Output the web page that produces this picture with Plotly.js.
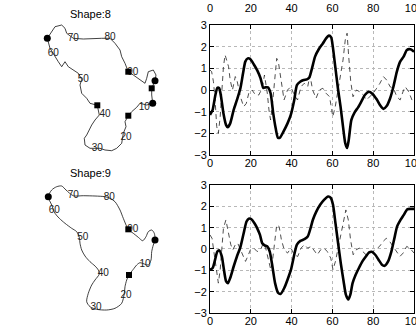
<!DOCTYPE html>
<html>
<head>
<meta charset="utf-8">
<script src="https://cdn.plot.ly/plotly-3.0.1.min.js"></script>
<style>
html, body { margin: 0; padding: 0; background: #fff; }
#plot { width: 416px; height: 327px; }
</style>
</head>
<body>
<div id="plot"></div>
<script>
// thick / dashed signals for shape 8 (top) and shape 9 (bottom)
var topThickX = [0, 1.3, 2.5, 3.6, 4.5, 5.4, 6.6, 7.9, 8.7, 9.9, 11.6, 13.2, 14.9, 16.2, 17.3, 18.5, 19.8, 21.5, 23.1, 24.8, 26.1, 27.2, 28.4, 29.7, 31, 32.2, 33.3, 34.3, 36, 38, 39.6, 41.3, 42.6, 44.2, 45.9, 47.5, 48.7, 50, 51.5, 53.3, 55.3, 56.9, 58.3, 59.4, 60.2, 61.4, 62.7, 64, 65.2, 66.3, 67.2, 68, 69.3, 70.9, 72.6, 74.3, 75.9, 77.9, 79.7, 81.7, 83.3, 85, 86.6, 88.3, 89.9, 91.6, 93.2, 94.9, 96.5, 98.2, 100];
var topThickY = [-1.15, -0.92, -0.3, 0.1, 0.08, -0.3, -1.08, -1.62, -1.72, -1.54, -0.92, -0.46, 0.08, 0.77, 1.31, 1.46, 1.42, 1.18, 0.92, 0.54, 0.1, 0.12, 0.12, -0.15, -1.08, -1.77, -2.2, -2.2, -1.92, -1.54, -1.15, -0.46, 0.23, 0.38, 0.46, 0.49, 0.58, 1.0, 1.54, 1.88, 2.15, 2.38, 2.51, 2.43, 2.0, 1.08, 0.08, -0.77, -1.69, -2.46, -2.68, -2.31, -1.38, -1.03, -0.8, -0.51, -0.23, -0.08, -0.18, -0.43, -0.69, -0.87, -0.74, -0.38, 0.15, 0.85, 1.31, 1.54, 1.85, 1.88, 1.77];
var topDashX = [0, 0.8, 1.7, 2.5, 3.3, 4.1, 5, 5.8, 6.6, 7.4, 9.1, 9.9, 11, 12.4, 13.2, 14.9, 16.5, 17.8, 19, 20.6, 22.3, 23.9, 25.6, 26.7, 28.1, 28.9, 29.7, 30.5, 31.4, 32.7, 33.5, 34.7, 36.3, 38, 39.6, 41.3, 42.9, 44.6, 46.2, 47.9, 49, 50.3, 52, 53.6, 55.3, 56.9, 58.6, 59.4, 60.2, 61.4, 62.7, 64, 65.2, 66.3, 67.2, 68, 69, 70.1, 71.8, 73.4, 75.1, 76.7, 78.4, 80, 81.7, 83.3, 85, 86.6, 88.3, 89.9, 91.6, 93.2, 94.9, 95.7, 97.4, 99, 100];
var topDashY = [0.92, 0.85, 0.38, -0.46, -1.69, -2.0, -1.23, -0.15, 1.08, 1.62, 1.08, 0.46, 0, 0.62, 0.46, -0.31, -0.77, -0.62, -0.15, 0, -0.23, -0.23, 0.08, 0.69, -0.15, -0.92, -1.38, -0.77, 0.31, 1.46, 1.31, 0.46, -0.46, 0, 0.15, -0.23, -0.46, 0.15, 0.31, 0.15, 0.69, 0, -0.38, 0, 0.08, -0.15, -0.31, -0.77, -1.23, -0.77, 0, 0.77, 1.38, 2.31, 2.62, 1.54, 0.38, -0.31, 0, -0.08, -0.23, -0.46, -0.31, -0.15, 0.08, 0.31, 0.62, 0.46, 0.15, 0.08, -0.31, -0.46, 0, 0.15, -0.08, -0.46, -0.54];

var botThickX = [0, 1.3, 2.5, 3.6, 4.6, 5.8, 6.6, 7.9, 8.8, 9.9, 11.6, 13.2, 14.9, 16.5, 17.9, 19, 20.2, 21.8, 23.1, 24.5, 25.6, 26.8, 28.1, 29.3, 30.6, 31.9, 33.4, 34.7, 36.4, 38, 39.7, 41.3, 42.6, 44.3, 46.3, 47.9, 49.3, 50.4, 52.1, 54, 55.9, 57.9, 59.2, 60.3, 61.5, 62.8, 64.1, 65.5, 66.6, 67.8, 68.8, 69.9, 71.4, 73, 74.7, 76.4, 78, 79.3, 81, 82.6, 84.3, 85.6, 87.3, 88.9, 90.4, 91.7, 93.4, 95, 96.7, 98.3, 100];
var botThickY = [-0.97, -0.89, -0.5, -0.12, -0.07, -0.35, -0.82, -1.52, -1.6, -1.36, -0.82, -0.35, 0.09, 0.74, 1.29, 1.42, 1.4, 1.21, 0.98, 0.66, 0.27, 0.17, 0.12, -0.12, -0.82, -1.6, -2.06, -2.1, -1.83, -1.44, -0.97, -0.27, 0.2, 0.38, 0.46, 0.58, 0.98, 1.36, 1.75, 2.07, 2.3, 2.46, 2.4, 2.07, 1.21, 0.27, -0.66, -1.52, -2.14, -2.37, -2.14, -1.6, -1.21, -0.89, -0.58, -0.35, -0.16, -0.13, -0.27, -0.5, -0.74, -0.79, -0.58, -0.12, 0.51, 1.05, 1.36, 1.6, 1.86, 1.88, 1.88];
var botDashX = [0, 1, 2, 3.3, 4.1, 5, 5.8, 6.6, 7.8, 9.1, 10.2, 11.2, 12.4, 13.6, 14.9, 16.2, 17.4, 18.5, 19.8, 21.5, 23.1, 24.8, 26.1, 27.3, 28.4, 29.8, 30.6, 31.7, 32.7, 33.9, 35, 36.4, 38, 39.7, 41.3, 43, 44.6, 46.3, 47.9, 49.6, 50.9, 52.6, 54.2, 55.9, 57.5, 59.2, 60.3, 61.5, 62.8, 64.1, 65.3, 66.6, 67.8, 68.9, 70.2, 71.6, 73.2, 74.9, 76.5, 78.2, 79.8, 81.5, 83.1, 84.8, 86.4, 88.1, 89.8, 91.4, 93.1, 94.7, 96.4, 98, 100];
var botDashY = [0.66, 0.5, -0.19, -1.2, -1.6, -0.97, -0.04, 0.98, 1.36, 0.74, 0.2, -0.04, 0.2, 0.27, -0.04, -0.35, -0.58, -0.35, -0.04, 0.04, -0.12, -0.04, 0.27, 0.04, -0.43, -0.97, -0.58, 0.43, 1.13, 1.05, 0.43, -0.04, -0.19, 0.04, -0.27, -0.35, 0.04, 0.2, 0.04, 0.12, -0.04, -0.27, -0.04, 0.04, -0.12, -0.43, -0.97, -0.58, 0.04, 0.66, 1.13, 1.83, 1.36, 0.43, -0.27, -0.04, 0.04, -0.12, -0.27, -0.19, -0.12, 0, 0.12, 0.35, 0.5, 0.35, 0.12, -0.12, -0.35, -0.19, 0.12, 0.04, -0.19];

// shape outlines (y grows downward)
var shape8X = [155, 151.7, 151.7, 152.7, 146.7, 140, 136.7, 131.7, 128.3, 125, 126, 123.3, 121.7, 116.7, 111.7, 105, 100, 90, 85, 84.3, 86.7, 90, 91.7, 95, 99.3, 97.3, 90, 86.7, 81.7, 80, 81.7, 78.3, 73.3, 68.3, 65, 61.7, 58.3, 55, 53.3, 50, 47.3, 51.7, 55, 61.7, 65, 66.7, 73.3, 83.3, 93.3, 101.7, 110, 115, 120, 121.7, 125, 128.3, 133.3, 140, 145, 146.7, 148.3, 153.3, 156, 155];
var shape8Y = [80.7, 88.3, 95, 103.3, 105, 103.3, 107.3, 111.7, 115.7, 121.7, 126.7, 133.3, 143.3, 148.3, 150.7, 150, 148.3, 148.3, 145, 138.3, 135, 128.3, 125, 120, 115, 105.3, 103.3, 98.3, 93.3, 85, 79.3, 73.3, 70, 66.7, 61.7, 66.7, 61.7, 56.7, 53.3, 48.3, 38.3, 31.7, 26.7, 25, 28.3, 33.3, 38.3, 39, 38.3, 38.3, 38.3, 43.3, 50, 56.7, 63.3, 71.7, 75, 80, 83.3, 78.3, 71.7, 70, 75, 80.7];
var shape9X = [155, 153.3, 151.7, 151, 148.3, 140, 136.7, 133.3, 129, 126.7, 125, 124.3, 121.7, 115, 106.7, 96.7, 90, 86.7, 88.3, 91.7, 95, 99.3, 98.3, 95, 90, 85, 81.7, 80, 79.3, 76.7, 71.7, 65, 59.3, 55, 51.7, 48.3, 51.7, 56.7, 61.7, 66, 73.3, 83.3, 95, 105, 110, 115, 120, 123.3, 128.3, 133.3, 138.3, 142.7, 146, 148.3, 151.7, 154.3, 155];
var shape9Y = [80, 85, 91.7, 100, 105, 102.7, 105, 109.3, 115, 120, 126.7, 133.3, 143.3, 148.3, 150, 149.3, 146.7, 141.7, 133.3, 125, 120, 114, 110, 106, 101.7, 96, 90, 83.3, 77.3, 71.7, 68.3, 63.3, 58.3, 53.3, 45, 36.7, 30, 26.7, 26, 30, 35.7, 35.7, 36, 36.7, 38.3, 41.7, 50, 58.3, 69.3, 73.3, 77.3, 80.7, 76.7, 71.7, 70, 73.3, 80];

var labelText = ["10", "20", "30", "40", "50", "60", "70", "80", "90"];
var label8X = [144.3, 126, 97.3, 105, 83.3, 53.3, 73.3, 110, 132.7];
var label8Y = [107.3, 137.3, 148.3, 114.3, 79.3, 53.3, 38.3, 37.3, 72.3];
var label9X = [145, 126, 96, 103.3, 82.7, 54.3, 73.3, 109.3, 132.7];
var label9Y = [105, 136, 147.3, 113.3, 77.3, 50, 35.7, 37.7, 69.3];

var circ8X = [47.3, 155, 152.7], circ8Y = [38.3, 80.7, 103.3];
var sq8X = [151.7, 128.3, 97.3, 128.3], sq8Y = [88.3, 115.7, 105.3, 71.7];
var circ9X = [48.3, 155], circ9Y = [36.7, 80];
var sq9X = [128.3, 129], sq9Y = [69.3, 115];

var xTicks = [0, 20, 40, 60, 80, 100];
var yTicks = [-3, -2, -1, 0, 1, 2, 3];

var FONT = "Liberation Sans, Arial, sans-serif";

function thick(x, y, xa, ya) {
  return {x: x, y: y, xaxis: xa, yaxis: ya, type: "scatter", mode: "lines",
    line: {color: "#000", width: 2.6, shape: "spline", smoothing: 0.6}, hoverinfo: "skip"};
}
function dashed(x, y, xa, ya) {
  return {x: x, y: y, xaxis: xa, yaxis: ya, type: "scatter", mode: "lines",
    line: {color: "#222", width: 0.8, dash: "5px,4px"}, hoverinfo: "skip"};
}
function outline(x, y, xa, ya, sh) {
  return {x: x, y: y, xaxis: xa, yaxis: ya, type: "scatter", mode: "lines",
    line: {color: "#111", width: 0.8, shape: sh, smoothing: 0.8}, hoverinfo: "skip"};
}
function labels(x, y, xa, ya) {
  return {x: x, y: y, xaxis: xa, yaxis: ya, type: "scatter", mode: "text", text: labelText,
    textfont: {family: FONT, size: 10, color: "#222"}, hoverinfo: "skip"};
}
function marks(x, y, xa, ya, sym, sz) {
  return {x: x, y: y, xaxis: xa, yaxis: ya, type: "scatter", mode: "markers",
    marker: {symbol: sym, size: sz, color: "#000"}, hoverinfo: "skip"};
}

var data = [
  dashed(topDashX, topDashY, "x", "y"),
  thick(topThickX, topThickY, "x", "y"),
  dashed(botDashX, botDashY, "x2", "y2"),
  thick(botThickX, botThickY, "x2", "y2"),
  {x: [0, 100], y: [0, 0], xaxis: "x5", yaxis: "y", mode: "markers", marker: {opacity: 0}, hoverinfo: "skip"},
  outline(shape8X, shape8Y, "x3", "y3", "linear"),
  labels(label8X, label8Y, "x3", "y3"),
  marks(circ8X, circ8Y, "x3", "y3", "circle", 7),
  marks(sq8X, sq8Y, "x3", "y3", "square", 6),
  outline(shape9X, shape9Y, "x4", "y4", "spline"),
  labels(label9X, label9Y, "x4", "y4"),
  marks(circ9X, circ9Y, "x4", "y4", "circle", 7),
  marks(sq9X, sq9Y, "x4", "y4", "square", 6)
];

var tickFont = {family: FONT, size: 11, color: "#000"};
function xAx(anchor, dom) {
  return {domain: dom, anchor: anchor, range: [0, 100], tickvals: xTicks,
    showline: true, mirror: "ticks", linecolor: "#000", linewidth: 1, ticks: "inside", ticklen: 4,
    tickcolor: "#000", showgrid: true, gridcolor: "#b8b8b8", griddash: "dot", gridwidth: 1,
    zeroline: false, tickfont: tickFont, ticklabeloverflow: "allow", ticklabelstandoff: -2,
    fixedrange: true};
}
function yAx(anchor, dom) {
  return {domain: dom, anchor: anchor, range: [-3, 3], tickvals: yTicks,
    showline: true, mirror: "ticks", linecolor: "#000", linewidth: 1, ticks: "inside", ticklen: 4,
    tickcolor: "#000", showgrid: true, gridcolor: "#b8b8b8", griddash: "dot", gridwidth: 1,
    zeroline: false, tickfont: tickFont, fixedrange: true};
}
function hidden(dom, rng, anchor) {
  return {domain: dom, range: rng, anchor: anchor, visible: false, fixedrange: true};
}

var layout = {
  width: 416, height: 327,
  margin: {l: 0, r: 0, t: 0, b: 0},
  paper_bgcolor: "#fff", plot_bgcolor: "rgba(0,0,0,0)",
  showlegend: false,
  font: {family: FONT, size: 11, color: "#000"},
  xaxis: xAx("y", [0.5048, 0.9952]),
  yaxis: yAx("x", [0.526, 0.9235]),
  xaxis2: xAx("y2", [0.5048, 0.9952]),
  yaxis2: yAx("x2", [0.0428, 0.4343]),
  xaxis5: {overlaying: "x", side: "top", anchor: "free", position: 0.958, range: [0, 100],
    tickvals: xTicks, showline: false, showgrid: false, zeroline: false, ticks: "",
    tickfont: tickFont, ticklabeloverflow: "allow", fixedrange: true},
  xaxis3: hidden([0, 0.46875], [0, 195], "y3"),
  yaxis3: hidden([0.5107, 0.9388], [160, 20], "x3"),
  xaxis4: hidden([0, 0.46875], [0, 195], "y4"),
  yaxis4: hidden([0.0214, 0.4495], [160, 20], "x4"),
  annotations: [
    {text: "Shape:8", xref: "paper", yref: "paper", x: 90 / 416, y: 1 - 14 / 327,
      xanchor: "center", yanchor: "middle", showarrow: false,
      font: {family: FONT, size: 11, color: "#000"}},
    {text: "Shape:9", xref: "paper", yref: "paper", x: 90 / 416, y: 1 - 173 / 327,
      xanchor: "center", yanchor: "middle", showarrow: false,
      font: {family: FONT, size: 11, color: "#000"}}
  ]
};

Plotly.newPlot("plot", data, layout, {staticPlot: true, displayModeBar: false});
</script>
</body>
</html>
